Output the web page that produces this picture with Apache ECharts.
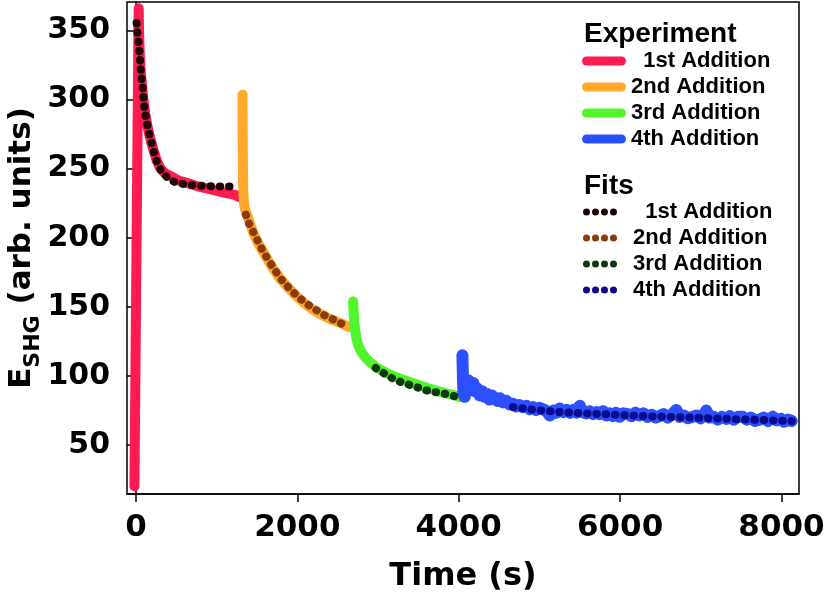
<!DOCTYPE html>
<html>
<head>
<meta charset="utf-8">
<title>E_SHG vs time</title>
<script src="https://cdn.jsdelivr.net/npm/echarts@6.0.0/dist/echarts.min.js"></script>
<style>
    html, body { margin: 0; padding: 0; background: #fff; }
    #chart { width: 825px; height: 594px; }
</style>
</head>
<body>
<div id="chart"></div>
<script>
// [time (s), E_SHG (arb. units)]
const exp1 = [[-19, 20.3], [33, 366], [38, 350], [45, 336], [55, 324], [68, 314], [82, 306], [98, 297],
    [115, 290], [135, 283], [160, 276], [190, 269], [222, 262.5], [256, 256], [300, 250.5], [360, 246.5],
    [421, 245], [520, 241.5], [627, 239.8], [730, 237.8], [834, 236.2], [940, 234.8], [1040, 233.4],
    [1150, 232], [1247, 230.6], [1267, 229.5]];
const exp2 = [[1321, 303.5], [1323, 275], [1326, 250], [1330, 234], [1337, 226], [1350, 221], [1371, 217.4],
    [1410, 211], [1453, 203.5], [1510, 196.5], [1577, 189.8], [1640, 183.5], [1700, 177.8], [1780, 171],
    [1866, 165.3], [1960, 159.5], [2072, 153.4], [2190, 148.2], [2319, 143.7], [2440, 140.4], [2567, 137.6],
    [2629, 135.4]];
const exp3 = [[2691, 153.9], [2697, 146], [2705, 139.5], [2716, 133.5], [2730, 128], [2748, 123.5],
    [2775, 119.5], [2810, 116], [2850, 113], [2900, 110], [2965, 107], [3040, 104.2], [3120, 101.8],
    [3210, 99.5], [3300, 97.5], [3400, 95.5], [3500, 93.5], [3600, 91.5], [3700, 89.8], [3800, 88.2],
    [3900, 86.7], [3971, 85.7], [4012, 84.7]];
const exp4 = [[4046, 115], [4052, 100], [4058, 88], [4075, 85], [4100, 93], [4120, 97], [4150, 92],
    [4180, 95], [4200, 89], [4230, 91], [4260, 86], [4290, 89], [4320, 85], [4350, 87], [4380, 83],
    [4410, 86], [4446, 84], [4480, 82], [4510, 84], [4549, 81], [4590, 82], [4630, 79.5], [4673, 80],
    [4710, 78], [4750, 79], [4797, 77.5], [4840, 78.5], [4880, 76], [4921, 77.5], [4960, 75.5], [5000, 77],
    [5045, 76], [5090, 74.5], [5130, 71.5], [5170, 75], [5210, 73.5], [5251, 76.5], [5300, 74], [5340, 75.5],
    [5380, 73.5], [5420, 75.5], [5460, 73.5], [5500, 78.5], [5530, 74], [5580, 73], [5622, 74.5], [5670, 72.5],
    [5710, 74], [5746, 72.5], [5790, 74.5], [5830, 71.5], [5870, 73], [5910, 71], [5950, 73.5], [5994, 70.5],
    [6040, 73], [6097, 72.5], [6140, 71], [6190, 73.5], [6241, 71.5], [6290, 73], [6340, 70.5], [6390, 72],
    [6440, 70], [6489, 71], [6540, 72.5], [6590, 70], [6640, 72], [6696, 75.5], [6740, 70.5], [6790, 71.5],
    [6840, 69.5], [6902, 70.5], [6950, 71.5], [7000, 69.5], [7040, 72], [7068, 75], [7110, 70], [7160, 70.5],
    [7210, 68.5], [7260, 70.5], [7315, 69], [7360, 71], [7410, 68.5], [7460, 70.5], [7521, 70.5], [7570, 68.5],
    [7620, 70], [7670, 67.5], [7728, 68.5], [7780, 70], [7830, 67.5], [7893, 70.5], [7940, 68], [7990, 69],
    [8030, 67], [8080, 68.5], [8127, 67.5]];

const fit1 = [[8, 355.3], [16.5, 348.8], [29, 342.8], [41, 335.6], [49.5, 328.8], [58, 322.3], [70, 315.8],
    [83, 309], [91, 301.8], [103, 295], [120, 288.5], [140, 282], [165, 275.2], [194, 268.5], [223, 262],
    [256, 255.5], [305, 249.2], [400, 242.7], [504, 239.6], [627, 238.6], [751, 237.9], [867, 237.4],
    [978, 237.2], [1094, 237.1], [1205, 237.1], [1250, 237.1]];
const fit2 = [[1362, 216.7], [1403, 210.2], [1461, 203.4], [1519, 196.6], [1576, 190.1], [1643, 183.6],
    [1718, 176.9], [1799, 170.1], [1898, 163.6], [1998, 157.8], [2114, 152.3], [2229, 147.9], [2341, 143.8],
    [2452, 140.7], [2567, 137.3], [2617, 136.6]];
const fit3 = [[2972, 105.8], [3084, 101.6], [3186, 98], [3303, 95.1], [3414, 93.2], [3484, 91.9],
    [3600, 89.6], [3715, 88.3], [3827, 87.2], [3951, 85.4], [4000, 84.8]];
const fit4 = [[4673, 77.6], [4850, 76.2], [5086, 74.7], [5350, 73.6], [5600, 72.9], [5808, 72.4],
    [6056, 71.6], [6400, 70.8], [6700, 70.3], [6985, 69.8], [7300, 69.1], [7600, 68.5], [7900, 67.9],
    [8127, 67.4]];

const additions = ['1st Addition', '2nd Addition', '3rd Addition', '4th Addition'];
const expColors = ['#ff1a50', '#ffa82a', '#50f52a', '#2d50ff'];
const fitColors = ['#1e0606', '#8b3b0b', '#0e3611', '#0b0b8e'];
const expWidths = [10, 10, 10, 12];
const xTicks = [0, 2000, 4000, 6000, 8000];
const yTicks = [50, 100, 150, 200, 250, 300, 350];

const expData = [exp1, exp2, exp3, exp4];
const fitData = [fit1, fit2, fit3, fit4];

const pillIcon = 'path://M4.5,0H39.5A4.5,4.5 0 0 1 39.5,9H4.5A4.5,4.5 0 0 1 4.5,0Z';
const dotsIcon = 'path://M0,3.5a3.5,3.5 0 1,0 7,0a3.5,3.5 0 1,0 -7,0' +
    'M9,3.5a3.5,3.5 0 1,0 7,0a3.5,3.5 0 1,0 -7,0' +
    'M18,3.5a3.5,3.5 0 1,0 7,0a3.5,3.5 0 1,0 -7,0' +
    'M27,3.5a3.5,3.5 0 1,0 7,0a3.5,3.5 0 1,0 -7,0';

const tickFont = 'DejaVu Sans';
const legendFont = 'Liberation Sans';

let chart = echarts.init(document.getElementById('chart'));

let series = [];
expData.forEach(function (d, i) {
    series.push({
        name: 'Experiment: ' + additions[i],
        type: 'line',
        data: d,
        symbol: 'none',
        color: expColors[i],
        lineStyle: { width: expWidths[i], color: expColors[i], cap: 'round', join: 'round' },
        z: 2
    });
});
fitData.forEach(function (d, i) {
    series.push({
        name: 'Fits: ' + additions[i],
        type: 'line',
        data: d,
        symbol: 'none',
        color: fitColors[i],
        lineStyle: { width: 8, color: fitColors[i], type: [0.5, 8.8], cap: 'round', join: 'round' },
        z: 3
    });
});

function legendLabel(name) {
    let label = name.split(': ')[1];
    return label === additions[0] ? '  ' + label : label;
}

function plainNumber(v) {
    return String(v);
}

let legendText = {
    fontFamily: legendFont,
    fontWeight: 'bold',
    fontSize: 22,
    color: '#000'
};

let option = {
    animation: false,
    backgroundColor: '#fff',
    title: [{
        text: 'Experiment',
        left: 584,
        top: 20,
        padding: 0,
        textStyle: { fontFamily: legendFont, fontWeight: 'bold', fontSize: 28, color: '#000' }
    }, {
        text: 'Fits',
        left: 584,
        top: 172,
        padding: 0,
        textStyle: { fontFamily: legendFont, fontWeight: 'bold', fontSize: 28, color: '#000' }
    }],
    legend: [{
        orient: 'vertical',
        left: 582,
        top: 50,
        padding: 0,
        itemWidth: 44,
        itemHeight: 9,
        itemGap: 4,
        selectedMode: false,
        formatter: legendLabel,
        textStyle: legendText,
        data: additions.map(function (a, i) {
            return { name: 'Experiment: ' + a, icon: pillIcon, itemStyle: { color: expColors[i], borderWidth: 0 } };
        })
    }, {
        orient: 'vertical',
        left: 583,
        top: 201,
        padding: 0,
        itemWidth: 34,
        itemHeight: 7,
        itemGap: 4,
        selectedMode: false,
        formatter: legendLabel,
        textStyle: Object.assign({ padding: [0, 0, 0, 11] }, legendText),
        data: additions.map(function (a, i) {
            return { name: 'Fits: ' + a, icon: dotsIcon, itemStyle: { color: fitColors[i], borderWidth: 0 } };
        })
    }],
    grid: {
        left: 127,
        right: 26,
        top: 2,
        bottom: 100,
        show: true,
        borderColor: '#000',
        borderWidth: 1.5,
        outerBoundsMode: 'none'
    },
    xAxis: {
        type: 'value',
        min: -111,
        max: 8217,
        name: 'Time (s)',
        nameLocation: 'middle',
        nameGap: 67,
        nameMoveOverlap: false,
        nameTextStyle: { fontFamily: tickFont, fontWeight: 'bold', fontSize: 32, color: '#000' },
        axisLine: { show: true, lineStyle: { color: '#000', width: 1.5 } },
        axisTick: { show: true, length: 8, customValues: xTicks, lineStyle: { color: '#000', width: 1.5 } },
        axisLabel: {
            customValues: xTicks,
            formatter: plainNumber,
            margin: 18,
            fontFamily: tickFont,
            fontWeight: 'bold',
            fontSize: 31,
            color: '#000'
        },
        splitLine: { show: false }
    },
    yAxis: {
        type: 'value',
        min: 14.7,
        max: 370.5,
        name: '{main|E}{sub|SHG}{main| (arb. units)}',
        nameLocation: 'middle',
        nameGap: 83,
        nameMoveOverlap: false,
        nameTextStyle: {
            fontFamily: tickFont,
            fontWeight: 'bold',
            fontSize: 31,
            color: '#000',
            rich: {
                main: { fontFamily: tickFont, fontWeight: 'bold', fontSize: 31, color: '#000', lineHeight: 44, verticalAlign: 'middle' },
                sub: { fontFamily: tickFont, fontWeight: 'bold', fontSize: 22, color: '#000', lineHeight: 44, verticalAlign: 'bottom' }
            }
        },
        axisLine: { show: true, lineStyle: { color: '#000', width: 1.5 } },
        axisTick: { show: true, length: 9, customValues: yTicks, lineStyle: { color: '#000', width: 1.5 } },
        axisLabel: {
            customValues: yTicks,
            formatter: plainNumber,
            margin: 17,
            fontFamily: tickFont,
            fontWeight: 'bold',
            fontSize: 30,
            color: '#000'
        },
        splitLine: { show: false }
    },
    series: series
};

chart.setOption(option);
</script>
</body>
</html>
